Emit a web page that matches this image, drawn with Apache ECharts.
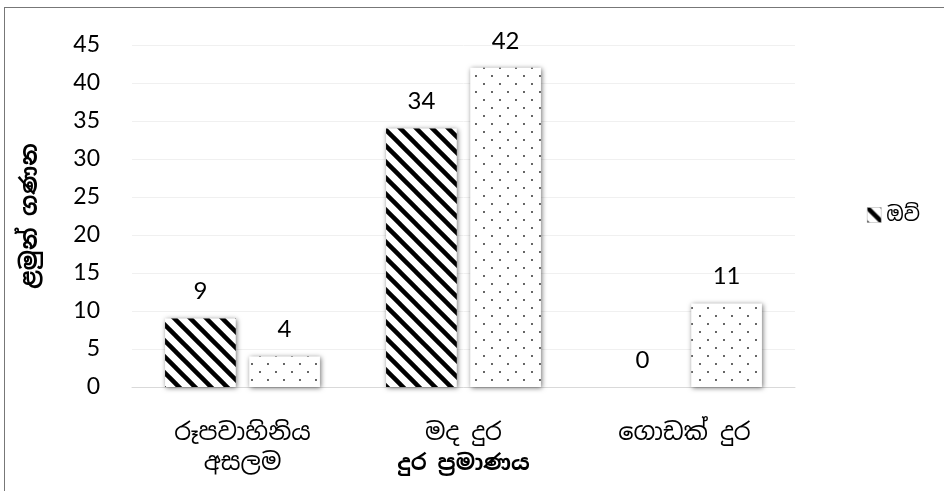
<!DOCTYPE html>
<html>
<head>
<meta charset="utf-8">
<script src="https://cdn.jsdelivr.net/npm/echarts@6/dist/echarts.min.js"></script>
<style>
    html, body { margin: 0; padding: 0; background: #fff; overflow: hidden; }
    #frame { position: absolute; left: 4px; top: 7px; width: 1000px; height: 600px; border: 1px solid #777; }
    #chart { position: absolute; left: 0; top: 0; width: 944px; height: 491px; }
</style>
</head>
<body>
<div id="frame"></div>
<div id="chart"></div>
<script>
    // chart data
    var categories = ['රූපවාහිනිය\nඅසලම', 'මද දුර', 'ගොඩක් දුර']
    var seriesNames = ['ඔව්', 'නැත']
    var yesValues = [9, 34, 0]
    var noValues = [4, 42, 11]
    var yTicks = { min: 0, max: 45, interval: 5 }

    var sinhala = '"Noto Sans Sinhala", "Iskoola Pota", "Noto Sans", sans-serif'
    var numFont = 'Lato, "Open Sans", sans-serif'

    function stripePattern() {
        var c = document.createElement('canvas')
        c.width = 16
        c.height = 16
        var ctx = c.getContext('2d')
        ctx.fillStyle = '#fff'
        ctx.fillRect(0, 0, 16, 16)
        ctx.strokeStyle = '#000'
        ctx.lineWidth = 4.5
        for (var i = -1; i <= 1; i++) {
            ctx.beginPath()
            ctx.moveTo(i * 16 - 4, -4)
            ctx.lineTo(i * 16 + 20, 20)
            ctx.stroke()
        }
        return c
    }

    function dotPattern() {
        var c = document.createElement('canvas')
        c.width = 16
        c.height = 16
        var ctx = c.getContext('2d')
        ctx.fillStyle = '#fff'
        ctx.fillRect(0, 0, 16, 16)
        ctx.fillStyle = '#333'
        ctx.beginPath()
        ctx.arc(4, 4, 1, 0, Math.PI * 2)
        ctx.arc(12, 12, 1, 0, Math.PI * 2)
        ctx.fill()
        return c
    }

    var barStyle = function (img) {
        return {
            color: { image: img, repeat: 'repeat' },
            borderWidth: 0,
            shadowColor: 'rgba(0,0,0,0.55)',
            shadowBlur: 5,
            shadowOffsetX: 1,
            shadowOffsetY: 1
        }
    }

    var labelStyle = {
        show: true,
        position: 'top',
        distance: 15,
        fontSize: 24,
        color: '#000',
        fontFamily: numFont
    }

    var chart = echarts.init(document.getElementById('chart'))
    chart.setOption({
        animation: false,
        grid: { left: 132, right: 149, top: 45, bottom: 104, outerBoundsMode: 'none', containLabel: false },
        legend: {
            data: [seriesNames[0]],
            left: 862,
            top: 200,
            orient: 'vertical',
            icon: 'rect',
            itemWidth: 14,
            itemHeight: 15,
            itemGap: 5,
            itemStyle: { borderColor: '#aaa', borderWidth: 0.5, shadowBlur: 0 },
            textStyle: { fontSize: 20, color: '#000', fontFamily: sinhala }
        },
        xAxis: {
            type: 'category',
            data: categories,
            name: 'දුර ප්‍රමාණය',
            nameLocation: 'middle',
            nameGap: 66,
            nameMoveOverlap: false,
            nameTextStyle: { fontSize: 22, fontWeight: 'bold', color: '#000', fontFamily: sinhala },
            axisLine: { lineStyle: { color: '#d9d9d9', width: 1 } },
            axisTick: { show: false },
            axisLabel: {
                margin: 31,
                fontSize: 24,
                lineHeight: 30,
                color: '#000',
                fontFamily: sinhala
            }
        },
        yAxis: {
            type: 'value',
            min: yTicks.min,
            max: yTicks.max,
            interval: yTicks.interval,
            name: 'ළමුන් ගණන',
            nameLocation: 'middle',
            nameRotate: 90,
            nameGap: 90,
            nameMoveOverlap: false,
            nameTextStyle: { fontSize: 23, fontWeight: 'bold', color: '#000', fontFamily: sinhala },
            axisLine: { show: false },
            axisTick: { show: false },
            axisLabel: { margin: 32, fontSize: 23, color: '#000', fontFamily: numFont },
            splitLine: { lineStyle: { color: '#f0f0f0' } }
        },
        series: [
            {
                name: seriesNames[0],
                type: 'bar',
                data: yesValues,
                barWidth: '32%',
                barGap: '19%',
                itemStyle: barStyle(stripePattern()),
                label: labelStyle
            },
            {
                name: seriesNames[1],
                type: 'bar',
                data: noValues,
                barWidth: '32%',
                itemStyle: barStyle(dotPattern()),
                label: labelStyle
            }
        ]
    })
</script>
</body>
</html>
